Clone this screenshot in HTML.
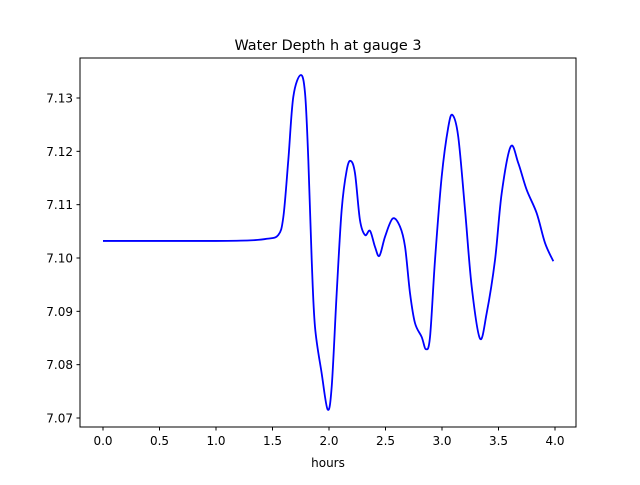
<!DOCTYPE html>
<html><head><meta charset="utf-8"><style>
body{margin:0;background:#fff;font-family:"Liberation Sans","DejaVu Sans",sans-serif}
svg text{font-family:"DejaVu Sans","Liberation Sans",sans-serif;font-size:12px;fill:#000}
</style></head><body>
<svg id="chart" width="640" height="480" viewBox="0 0 640 480" xmlns="http://www.w3.org/2000/svg">
<rect width="640" height="480" fill="#fff"/>
<text x="328" y="50" text-anchor="middle" style="font-size:14.4px">Water Depth h at gauge 3</text>
<g id="axes"></g>
<rect x="80" y="58" width="496" height="369" fill="none" stroke="#000" stroke-width="1"/>
<text x="328" y="467" text-anchor="middle">hours</text>
</svg>
<script>
const hours=[0,0.5,1.0,1.3,1.45,1.551,1.596,1.64,1.684,1.749,1.788,1.817,1.847,1.876,1.935,1.988,2.024,2.068,2.112,2.157,2.192,2.23,2.274,2.319,2.363,2.407,2.446,2.496,2.564,2.628,2.673,2.717,2.761,2.82,2.858,2.894,2.938,2.997,3.056,3.094,3.144,3.204,3.263,3.336,3.395,3.469,3.528,3.608,3.675,3.749,3.838,3.912,3.985];
const depth=[7.1032,7.1032,7.1032,7.1033,7.1036,7.1043,7.1077,7.1184,7.1302,7.1343,7.1309,7.1184,7.0996,7.0871,7.0784,7.0716,7.0759,7.0934,7.109,7.1165,7.1182,7.1159,7.1071,7.1043,7.1051,7.1021,7.1004,7.104,7.1074,7.1059,7.1021,7.0934,7.0878,7.0852,7.0829,7.0852,7.0996,7.1152,7.1246,7.1268,7.1227,7.109,7.0946,7.0849,7.0896,7.0996,7.1121,7.1209,7.1178,7.1128,7.1084,7.1028,7.0994];
const xTicks=[0,0.5,1.0,1.5,2.0,2.5,3.0,3.5,4.0];
const yTicks=[7.07,7.08,7.09,7.10,7.11,7.12,7.13];
const xs=v=>103+v*113;
const ys=v=>418-(v-7.07)*5333.3;
const NS='http://www.w3.org/2000/svg';
const g=document.getElementById('axes');
function mk(t,a){const e=document.createElementNS(NS,t);for(const k in a)e.setAttribute(k,a[k]);return e;}
xTicks.forEach(t=>{
 const l=mk('line',{x1:xs(t),x2:xs(t),y1:427,y2:430.5,stroke:'#000'});
 
 
 g.appendChild(l);
 const tx=mk('text',{x:xs(t),y:445,'text-anchor':'middle'});
 tx.textContent=t.toFixed(1);
 
 
 g.appendChild(tx);
});
yTicks.forEach(t=>{
 const l=mk('line',{x1:76.5,x2:80,y1:ys(t),y2:ys(t),stroke:'#000'});
 
 
 g.appendChild(l);
 const tx=mk('text',{x:73,y:ys(t)+4.5,'text-anchor':'end'});
 tx.textContent=t.toFixed(2);
 
 
 g.appendChild(tx);
});
const P=hours.map((h,i)=>[xs(h),ys(depth[i])]);
let d='M'+P[0][0]+','+P[0][1];
for(let i=0;i<P.length-1;i++){
 const p0=P[Math.max(0,i-1)],p1=P[i],p2=P[i+1],p3=P[Math.min(P.length-1,i+2)];
 const c1=[p1[0]+(p2[0]-p0[0])/6,p1[1]+(p2[1]-p0[1])/6];
 const c2=[p2[0]-(p3[0]-p1[0])/6,p2[1]-(p3[1]-p1[1])/6];
 d+=` C${c1[0]},${c1[1]} ${c2[0]},${c2[1]} ${p2[0]},${p2[1]}`;
}
const path=mk('path',{d:d,fill:'none',stroke:'#0000ff','stroke-width':1.8,'stroke-linejoin':'round'});


g.appendChild(path);
</script>
</body></html>
